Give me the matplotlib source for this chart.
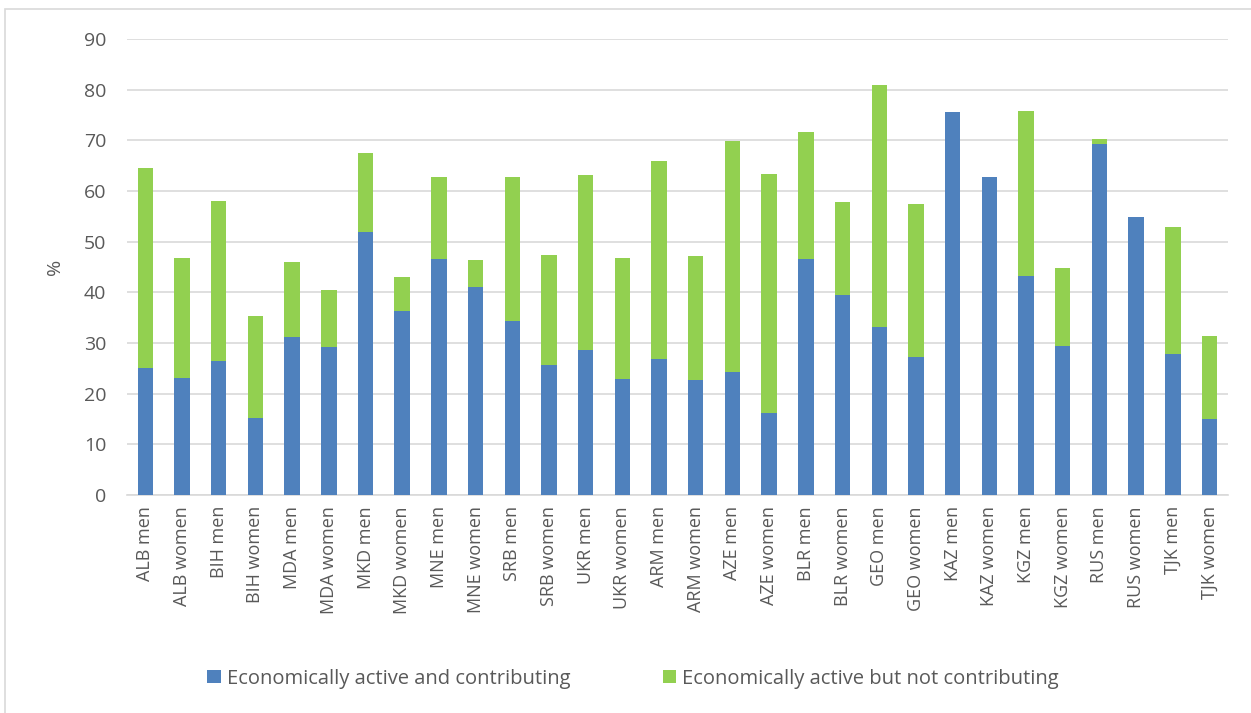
import matplotlib.pyplot as plt
import numpy as np
from matplotlib.patches import Rectangle

categories = ["ALB men", "ALB women", "BIH men", "BIH women", "MDA men", "MDA women",
              "MKD men", "MKD women", "MNE men", "MNE women", "SRB men", "SRB women",
              "UKR men", "UKR women", "ARM men", "ARM women", "AZE men", "AZE women",
              "BLR men", "BLR women", "GEO men", "GEO women", "KAZ men", "KAZ women",
              "KGZ men", "KGZ women", "RUS men", "RUS women", "TJK men", "TJK women"]
contributing = [25.0, 23.0, 26.4, 15.2, 31.2, 29.2, 51.9, 36.3, 46.5, 41.0, 34.4, 25.6,
                28.6, 22.8, 26.8, 22.6, 24.2, 16.1, 46.5, 39.5, 33.1, 27.2, 75.6, 62.7,
                43.3, 29.4, 69.2, 54.8, 27.8, 15.0]
total_active = [64.6, 46.7, 58.0, 35.4, 46.0, 40.5, 67.4, 43.0, 62.8, 46.4, 62.8, 47.4,
                63.1, 46.7, 65.9, 47.1, 69.8, 63.4, 71.7, 57.8, 80.9, 57.5, 75.6, 62.7,
                75.8, 44.8, 70.3, 54.8, 52.8, 31.3]
not_contributing = [t - c for t, c in zip(total_active, contributing)]

blue = "#4F81BD"
green = "#92D050"
txt = "#595959"

plt.rcParams['font.family'] = ['Open Sans', 'DejaVu Sans']

fig = plt.figure(figsize=(12.51, 7.13), dpi=100)
fig.patches.append(Rectangle((0.004, -0.01), 1.2, 0.997, transform=fig.transFigure,
                             fill=False, edgecolor="#D9D9D9", linewidth=1.2))
ax = fig.add_axes([0.1015, 0.3058, 0.8800, 0.6395])

x = np.arange(len(categories))
ax.bar(x, contributing, width=0.42, color=blue, label="Economically active and contributing", zorder=3)
ax.bar(x, not_contributing, width=0.42, bottom=contributing, color=green,
       label="Economically active but not contributing", zorder=3)

ax.set_xlim(-0.5, len(categories) - 0.5)
ax.set_ylim(0, 90)
ax.set_yticks(range(0, 91, 10))
ax.set_xticks(x)
ax.set_xticklabels(categories, rotation=90)
ax.tick_params(axis="both", length=0, colors=txt)
ax.tick_params(axis="y", labelsize=14, pad=15)
ax.tick_params(axis="x", labelsize=13, pad=8)
ax.grid(axis="y", color="#D9D9D9", linewidth=1.2, zorder=0)
for s in ["top", "right", "left"]:
    ax.spines[s].set_visible(False)
ax.spines["bottom"].set_color("#D9D9D9")
ax.spines["bottom"].set_linewidth(1.2)
ax.set_ylabel("%", fontsize=14, color=txt, labelpad=14)

fig.legend(loc="center", bbox_to_anchor=(0.506, 0.048), ncol=2, frameon=False,
           fontsize=14.5, labelcolor=txt, handlelength=0.65, handleheight=0.65,
           handletextpad=0.3, columnspacing=4.6)

fig.savefig("out.png", dpi=100)
